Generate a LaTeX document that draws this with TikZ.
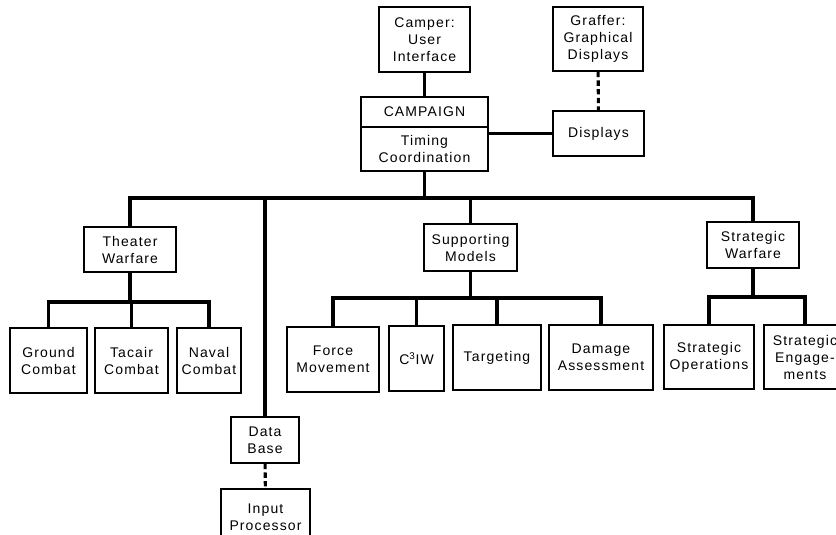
\documentclass[tikz,border=0pt]{standalone}
\usepackage{fontspec}
\setmainfont[LetterSpace=8]{Liberation Sans}
\begin{document}
\begin{tikzpicture}
        [x=0.75pt, y=-0.75pt,
        every node/.style={rectangle, draw=black, line width=1.2pt, align=center, inner sep=1pt,
          font=\fontsize{10.5}{12.75}\selectfont},
        sz/.style 2 args={minimum width=#1*0.75pt, minimum height=#2*0.75pt},
        link/.style={line width=2.3pt},
        dlink/.style={line width=2.3pt, dash pattern=on 4pt off 2.5pt},
        ]
        \useasboundingbox (0,0) rectangle (836,535);
        \clip (0,0) rectangle (836,535);
        % top level
        \node[sz={91}{65}] (camper) at (424.5,39.5) {Camper:\\User\\Interface};
        \node[sz={90}{64}] (graffer) at (598,39) {Graffer:\\Graphical\\Displays};
        \node[sz={127}{30}] (campaign) at (424.5,112) {CAMPAIGN};
        \node[sz={127}{44}] (timing) at (424.5,149) {Timing\\Coordination};
        \node[sz={91}{45}] (displays) at (598.5,133.5) {Displays};
        % second level
        \node[sz={92}{45}] (theater) at (130,249.5) {Theater\\Warfare};
        \node[sz={93}{47}] (support) at (470.5,247.5) {Supporting\\Models};
        \node[sz={92}{46}] (strategic) at (753,245) {Strategic\\Warfare};
        % third level
        \node[sz={77}{65}] (ground) at (48.5,360.5) {Ground\\Combat};
        \node[sz={73}{65}] (tacair) at (131.5,360.5) {Tacair\\Combat};
        \node[sz={64}{65}] (naval) at (209,360.5) {Naval\\Combat};
        \node[sz={92}{65}] (force) at (333,359.5) {Force\\Movement};
        \node[sz={55}{65}] (c3iw) at (416.5,358.5) {C\textsuperscript{3}IW};
        \node[sz={88}{65}] (target) at (497,357.5) {Targeting};
        \node[sz={104}{65}] (damage) at (601,357.5) {Damage\\Assessment};
        \node[sz={90}{64}] (stratops) at (709,357) {Strategic\\Operations};
        \node[sz={82}{64}] (strateng) at (805,357) {Strategic\\Engage-\\ments};
        % data path
        \node[sz={68}{46}] (database) at (265,440) {Data\\Base};
        \node[sz={89}{56}] (input) at (265.5,517) {Input\\Processor};

        \coordinate (bus) at (424.5,198);
        \coordinate (tw) at (130,302);
        \coordinate (sm) at (470.5,298);
        \coordinate (sw) at (753,297);

        \draw[link] (camper) -- (campaign);
        \draw[link] (displays.west) -- (displays.west -| timing.east);
        \draw[dlink] (graffer) -- (displays);
        \draw[link] (timing) -- (bus);
        \draw[link] (theater.north) |- (bus) -| (strategic.north);
        \draw[link] (support) -- (support.north |- bus);
        \draw[link] (database) -- (database.north |- bus);
        \draw[dlink] (database) -- (input);

        \draw[link] (theater) -- (tw);
        \draw[link] (ground.north) |- (tw) -| (naval.north);
        \draw[link] (tacair.north) -- (tacair.north |- tw);

        \draw[link] (support) -- (sm);
        \draw[link] (force.north) |- (sm) -| (damage.north);
        \draw[link] (c3iw.north) -- (c3iw.north |- sm);
        \draw[link] (target.north) -- (target.north |- sm);

        \draw[link] (strategic) -- (sw);
        \draw[link] (stratops.north) |- (sw) -| (strateng.north);
\end{tikzpicture}
\end{document}
